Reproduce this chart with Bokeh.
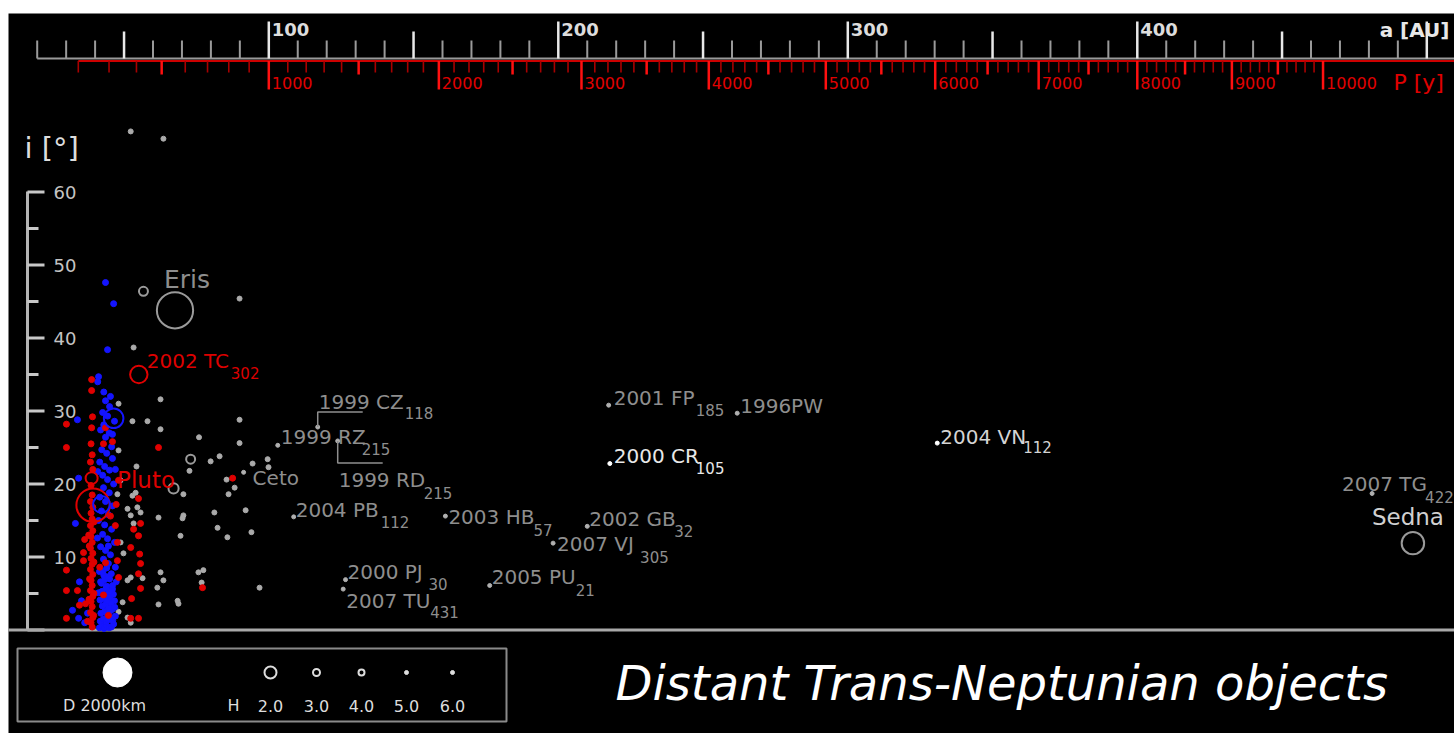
from bokeh.plotting import figure
from bokeh.models import Range1d
from bokeh.embed import file_html
from bokeh.resources import INLINE
from bokeh.core.properties import value

# ---------------- data ----------------
# resonant objects (red): semi-major axis a [AU], inclination i [deg]
res_a = [30.1, 30.1, 30.1, 30.1, 30.1, 36.0, 36.0, 33.9, 34.6, 36.7, 37.4, 36.4,
         38.8, 38.8, 39.1, 38.8,
         38.6, 39.0, 38.4, 39.2, 38.6, 39.0, 38.4, 39.2, 38.6, 39.0, 38.4, 39.2,
         38.6, 39.0, 38.4, 39.2, 38.6, 39.0, 38.4, 39.2, 38.6, 39.0, 38.4, 39.2,
         38.6, 39.0, 38.4, 39.2, 38.6, 39.0,
         38.0, 37.8, 39.6, 39.6, 38.1, 39.6, 37.9, 39.5,
         43.6, 42.9, 46.0, 43.6, 47.7, 47.7, 47.0, 48.1, 42.9, 44.6, 41.6, 45.3, 47.3, 48.1,
         55.0, 55.7, 53.3, 55.0, 52.3, 55.7, 55.0, 55.7, 52.6, 55.0, 52.3, 55.4,
         61.9, 87.5, 77.1]
res_i = [28.2, 25.0, 8.2, 5.4, 1.6, 10.6, 9.5, 5.4, 3.4, 3.6, 1.2, 12.4,
         34.3, 32.8, 29.2, 27.7,
         25.5, 24.0, 23.0, 22.0, 19.8, 18.5, 17.6, 16.8, 16.0, 15.2, 14.3, 13.6,
         12.8, 12.0, 11.2, 10.5, 9.8, 9.0, 8.3, 7.6, 6.8, 6.1, 5.4, 4.6,
         3.9, 3.2, 2.4, 1.7, 1.0, 0.4,
         11.5, 13.0, 14.8, 9.3, 7.0, 5.0, 4.2, 2.0,
         27.7, 25.5, 25.8, 9.2, 9.5, 12.0, 14.3, 7.2, 4.8, 2.0, 8.6, 15.6, 17.2, 20.5,
         18.0, 14.6, 13.8, 12.9, 11.3, 9.1, 7.7, 5.7, 4.3, 1.6, 1.6, 10.4,
         25.0, 20.8, 5.8]

# classical objects (blue)
cla_a = [43.6, 46.4, 44.3, 41.2, 40.9, 43.6, 33.9, 45.0, 42.6, 44.3, 46.7, 43.0,
         41.9, 44.9, 43.6, 45.7, 42.3, 44.0, 46.0, 41.6, 43.3, 45.0, 42.6, 34.3,
         44.3, 46.4, 42.9, 44.9, 41.6, 43.6, 46.0, 42.2, 44.6, 33.2, 41.2, 43.3,
         45.7, 42.6, 44.3, 46.7, 41.9, 43.6, 45.3, 42.9, 44.6, 47.0, 41.5, 43.0,
         45.0, 34.6, 42.2, 44.0, 46.0, 41.2, 43.3, 44.9, 46.7, 32.2, 34.3, 36.4,
         37.4, 35.3, 45.3, 43.0, 46.0, 47.0, 44.6, 47.3, 40.8, 40.9,
         41.5, 42.4, 43.1, 44.0, 44.8, 45.6, 46.4, 41.8, 42.9, 43.8, 44.5, 45.3,
         46.1, 47.0, 42.0, 43.4, 44.2, 45.0, 45.9, 46.8, 42.5, 43.6, 44.7, 45.5,
         41.7, 43.0, 44.1, 45.2, 46.3, 42.4, 43.8, 44.9, 46.0, 41.9, 43.3, 44.6,
         45.6, 42.7, 44.0]
cla_i = [47.6, 44.7, 38.4, 34.7, 34.0, 31.4, 28.8, 30.6, 29.8, 29.3, 28.6, 28.1,
         27.4, 27.0, 26.4, 25.1, 24.7, 24.2, 23.5, 23.0, 22.4, 21.9, 21.2, 20.8,
         20.6, 20.0, 19.5, 18.8, 18.2, 17.6, 17.0, 16.3, 15.8, 14.6, 15.0, 14.4,
         13.8, 13.1, 12.5, 12.0, 11.4, 10.9, 10.3, 9.7, 9.1, 8.6, 8.0, 7.5,
         7.0, 6.6, 6.4, 6.0, 5.6, 5.1, 4.8, 4.4, 4.0, 2.7, 1.6, 1.0,
         2.3, 4.0, 32.0, 32.6, 26.8, 22.0, 11.5, 6.6, 12.6, 21.7,
         0.3, 0.5, 0.2, 0.6, 0.3, 0.4, 0.8, 1.2, 1.5, 1.1, 1.4, 1.7,
         1.3, 1.9, 2.3, 2.6, 2.2, 2.5, 2.8, 3.1, 3.3, 3.5, 3.0, 3.7,
         4.1, 4.3, 4.0, 4.6, 4.9, 5.3, 5.7, 5.2, 6.1, 6.6, 6.9, 7.3,
         7.7, 8.0, 8.5]

# scattered objects (grey)
sdo_a = [52.3, 63.6, 89.9, 53.3, 62.6, 48.1, 52.9, 58.1, 62.6, 75.9, 89.9, 89.9,
         79.9, 83.0, 72.6, 94.4, 99.6, 99.9, 85.4, 88.2, 86.1, 70.5, 92.0, 81.2,
         61.9, 70.5, 70.2, 82.3, 94.0, 69.5, 85.7, 62.6, 63.6, 61.5, 75.7, 77.4,
         76.8, 96.8, 61.9, 68.5, 68.8, 48.1, 48.8, 52.9, 51.2, 52.3, 53.3, 48.8,
         49.8, 51.2, 52.3, 49.5, 51.2, 52.3, 56.4, 54.0, 54.6, 55.7, 48.1, 47.7, 54.3]
sdo_i = [68.3, 67.3, 45.4, 38.7, 31.6, 31.0, 28.6, 28.6, 27.5, 26.4, 28.8, 25.6,
         23.1, 23.8, 21.8, 22.8, 23.4, 22.3, 20.6, 19.5, 18.6, 18.6, 16.4, 16.1,
         15.4, 15.7, 15.3, 14.0, 13.4, 12.9, 12.7, 7.9, 6.8, 5.8, 7.9, 8.2,
         6.5, 5.8, 3.5, 4.0, 3.6, 24.6, 20.5, 18.4, 16.6, 15.7, 14.6, 12.0,
         10.5, 6.8, 7.2, 3.8, 1.7, 1.0, 7.1, 18.8, 16.8, 16.1, 2.5, 18.6, 22.4]

# large bodies drawn as circles (diameter in km)
big_name = ["Eris", "Pluto", "Sedna", "2002 TC", "", "", "", "", "", ""]
big_sub = ["", "", "", "302", "", "", "", "", "", ""]
big_group = ["sdo", "res", "sdo", "res", "cla", "cla", "res", "sdo", "sdo", "sdo"]
big_a = [67.6, 39.3, 495.2, 55.1, 46.4, 42.2, 38.8, 67.1, 56.7, 73.0]
big_i = [43.8, 17.1, 11.9, 35.0, 29.0, 17.2, 20.8, 19.4, 46.4, 23.4]
big_d = [2500, 2300, 1550, 1200, 1350, 1150, 830, 700, 620, 620]

# named distant objects
named_main = ["1999 CZ", "1999 RZ", "1999 RD", "Ceto", "2004 PB", "2003 HB", "2002 GB",
              "2007 VJ", "2000 PJ", "2007 TU", "2005 PU", "2001 FP", "1996PW",
              "2000 CR", "2004 VN", "2007 TG"]
named_sub = ["118", "215", "215", "", "112", "57", "32", "305", "30", "431", "21",
             "185", "", "105", "112", "422"]
named_a = [116.9, 103.1, 123.8, 91.3, 108.6, 161.0, 210.0, 198.2, 126.5, 125.7,
           176.3, 217.4, 261.8, 217.8, 330.9, 481.1]
named_i = [27.8, 25.3, 25.9, 21.6, 15.5, 15.6, 14.2, 11.9, 6.9, 5.6, 6.1, 30.8,
           29.7, 22.8, 25.6, 18.7]

# axes
a_ticks = list(range(20, 501, 10))
a_labels = [100, 200, 300, 400]
P_ticks = list(range(200, 10001, 100))
P_labels = [1000, 2000, 3000, 4000, 5000, 6000, 7000, 8000, 9000, 10000]
i_ticks = list(range(0, 61, 5))
i_labels = [10, 20, 30, 40, 50, 60]
legend_H = ["2.0", "3.0", "4.0", "5.0", "6.0"]

assert len(res_a) == len(res_i) and len(cla_a) == len(cla_i) and len(sdo_a) == len(sdo_i)

# ---------------- layout helpers (page pixel geometry) ----------------
AX0, SX = 268.3, 2.895   # page px of a=100, px per AU
Y0, SY = 629.5, 7.3      # page px of i=0, px per degree
LEFT, TOP, W, H = 8, 13, 1446, 720


def ax(px):
    return 100 + (px - AX0) / SX


def iy(py):
    return (Y0 - py) / SY


def dxa(d):
    return d / SX


def dyi(d):
    return -d / SY


FONT = value("DejaVu Sans")
GREY = "#8e8e8e"
RED = "#e00000"
BLUE = "#1414ff"

p = figure(width=W, height=H, x_range=Range1d(ax(LEFT), ax(LEFT + W)),
           y_range=Range1d(iy(TOP + H), iy(TOP)), output_backend="svg",
           toolbar_location=None, x_axis_type=None, y_axis_type=None,
           background_fill_color="black", border_fill_color="black",
           outline_line_color=None, min_border=0)
p.margin = (TOP, 0, 0, LEFT)
XR = ax(1460)

# ---- top a [AU] axis ----
ya = iy(58)
p.segment(x0=[ax(36.7)], y0=[ya], x1=[XR], y1=[ya], line_color="#9a9a9a", line_width=2)
minor = [t for t in a_ticks if t % 50]
half = [t for t in a_ticks if t % 50 == 0 and t % 100]
major = [t for t in a_ticks if t % 100 == 0]
p.segment(x0=minor, y0=[ya] * len(minor), x1=minor, y1=[iy(40)] * len(minor),
          line_color="#9a9a9a", line_width=2)
p.segment(x0=half, y0=[ya] * len(half), x1=half, y1=[iy(31)] * len(half),
          line_color="#e8e8e8", line_width=2.5)
p.segment(x0=major, y0=[ya] * len(major), x1=major, y1=[iy(21)] * len(major),
          line_color="#e8e8e8", line_width=2.5)
p.text(x=[t + dxa(3) for t in a_labels], y=[iy(29)] * len(a_labels),
       text=[str(t) for t in a_labels], text_font=FONT, text_font_size=value("18px"),
       text_font_style="bold", text_color="#dddddd", text_align="left", text_baseline="middle")
p.text(x=[ax(1449)], y=[iy(29)], text=["a [AU]"], text_font=FONT, text_font_size=value("20px"),
       text_font_style="bold", text_color="#e8e8e8", text_align="right", text_baseline="middle")

# ---- red P [y] axis ----
yr = iy(60.5)
Pa = [P ** (2.0 / 3.0) for P in P_ticks]
p.segment(x0=[Pa[0]], y0=[yr], x1=[XR], y1=[yr], line_color="#cc0000", line_width=2)
pm = [a for a, P in zip(Pa, P_ticks) if P % 500]
ph = [a for a, P in zip(Pa, P_ticks) if P % 500 == 0 and P % 1000]
pk = [a for a, P in zip(Pa, P_ticks) if P % 1000 == 0]
p.segment(x0=pm, y0=[yr] * len(pm), x1=pm, y1=[iy(72)] * len(pm), line_color="#a80000", line_width=1.6)
p.segment(x0=ph, y0=[yr] * len(ph), x1=ph, y1=[iy(74)] * len(ph), line_color="#ff1010", line_width=2.5)
p.segment(x0=pk, y0=[yr] * len(pk), x1=pk, y1=[iy(89)] * len(pk), line_color="#ff1010", line_width=2.5)
p.text(x=[P ** (2.0 / 3.0) + dxa(3) for P in P_labels], y=[iy(82)] * len(P_labels),
       text=[str(P) for P in P_labels], text_font=FONT, text_font_size=value("16px"),
       text_color=RED, text_align="left", text_baseline="middle")
p.text(x=[ax(1393)], y=[iy(82)], text=["P [y]"], text_font=FONT, text_font_size=value("22px"),
       text_color=RED, text_align="left", text_baseline="middle")

# ---- left i [deg] axis ----
xl = ax(27)
p.segment(x0=[xl], y0=[iy(191)], x1=[xl], y1=[0], line_color="#b4b4b4", line_width=3)
imaj = [t for t in i_ticks if t % 10 == 0]
imin = [t for t in i_ticks if t % 10]
p.segment(x0=[xl] * len(imaj), y0=imaj, x1=[ax(44)] * len(imaj), y1=imaj,
          line_color="#c8c8c8", line_width=3)
p.segment(x0=[xl] * len(imin), y0=imin, x1=[ax(38)] * len(imin), y1=imin,
          line_color="#c8c8c8", line_width=3)
p.text(x=[ax(53)] * len(i_labels), y=i_labels, text=[str(t) for t in i_labels],
       text_font=FONT, text_font_size=value("18px"), text_color="#c4c4c4",
       text_align="left", text_baseline="middle")
p.text(x=[ax(24)], y=[iy(147)], text=["i [°]"], text_font=FONT, text_font_size=value("29px"),
       text_color="#dddddd", text_align="left", text_baseline="middle")

# bottom line
p.segment(x0=[ax(0)], y0=[0], x1=[XR], y1=[0], line_color="#a8a8a8", line_width=3)

# ---- data points ----
p.scatter(sdo_a, sdo_i, size=5, color="#aaaaaa")
p.scatter(cla_a, cla_i, size=6, color=BLUE)
p.scatter(res_a, res_i, size=6, color=RED)

kind_col = {"sdo": "#9a9a9a", "res": RED, "cla": BLUE}
p.scatter(big_a, big_i, size=[d * 0.0145 for d in big_d], fill_color=None,
          line_color=[kind_col[k] for k in big_group], line_width=2)

# named objects
named_col = ["#ffffff" if n in ("2000 CR", "2004 VN") else "#b0b0b0" for n in named_main]
p.scatter(named_a, named_i, size=4, color=named_col)

# leader brackets (1999 CZ118 and 1999 RD215)
p.multi_line(xs=[[named_a[0], named_a[0], named_a[0] + dxa(45)],
                 [named_a[2], named_a[2], named_a[2] + dxa(45)]],
             ys=[[named_i[0], named_i[0] + 15 / SY, named_i[0] + 15 / SY],
                 [named_i[2], named_i[2] - 22 / SY, named_i[2] - 22 / SY]],
             line_color="#8e8e8e", line_width=1.5)

off = {"1999 CZ": (1, -25, 87, -14), "1999 RZ": (3, -8, 84, 4), "1999 RD": (1, 39, 86, 52),
       "Ceto": (9, 6, 0, 0), "2004 PB": (2, -7, 87, 5), "2003 HB": (3, 1, 88, 14),
       "2002 GB": (2, -7, 87, 5), "2007 VJ": (4, 1, 87, 14), "2000 PJ": (2, -8, 83, 4),
       "2007 TU": (3, 12, 87, 23), "2005 PU": (2, -8, 86, 5), "2001 FP": (5, -7, 87, 5),
       "1996PW": (3, -7, 0, 0), "2000 CR": (4, -8, 86, 4), "2004 VN": (3, -6, 86, 4),
       "2007 TG": (-30, -9, 53, 4)}
lab_col = {"2000 CR": "#e8e8e8", "2004 VN": "#d4d4d4"}
p.text(x=[a + dxa(off[n][0]) for n, a in zip(named_main, named_a)],
       y=[i + dyi(off[n][1]) for n, i in zip(named_main, named_i)],
       text=named_main, text_font=FONT, text_font_size=value("20px"),
       text_color=[lab_col.get(n, GREY) for n in named_main],
       text_align="left", text_baseline="middle")
sub_idx = [k for k, s in enumerate(named_sub) if s]
p.text(x=[named_a[k] + dxa(off[named_main[k]][2]) for k in sub_idx],
       y=[named_i[k] + dyi(off[named_main[k]][3]) for k in sub_idx],
       text=[named_sub[k] for k in sub_idx], text_font=FONT, text_font_size=value("15px"),
       text_color=[lab_col.get(named_main[k], GREY) for k in sub_idx],
       text_align="left", text_baseline="middle")

# big body labels
big_off = {"Eris": (-11, -31, "25px", GREY), "Pluto": (24, -25, "23px", "#dd0000"),
           "Sedna": (-41, -26, "23px", "#d0d0d0"), "2002 TC": (8, -14, "20px", "#dd0000")}
bl = [k for k, n in enumerate(big_name) if n]
for k in bl:
    dx, dy, fs, col = big_off[big_name[k]]
    p.text(x=[big_a[k] + dxa(dx)], y=[big_i[k] + dyi(dy)], text=[big_name[k]],
           text_font=FONT, text_font_size=value(fs), text_color=col,
           text_align="left", text_baseline="middle")
    if big_sub[k]:
        p.text(x=[big_a[k] + dxa(92)], y=[big_i[k] + dyi(-2)], text=[big_sub[k]],
               text_font=FONT, text_font_size=value("15px"), text_color=col,
               text_align="left", text_baseline="middle")

# ---- legend ----
p.quad(left=[ax(17)], right=[ax(506)], top=[iy(648)], bottom=[iy(721)],
       fill_color=None, line_color="#8a8a8a", line_width=2)
p.scatter([ax(117)], [iy(672)], size=2000 * 0.0145, color="white")
p.text(x=[ax(104)], y=[iy(705)], text=["D 2000km"], text_font=FONT,
       text_font_size=value("16px"), text_color="#dddddd", text_align="center", text_baseline="middle")
hx = [270, 316, 361, 406, 452]
hs = [12, 7, 6, 4, 4]
p.scatter([ax(x) for x in hx[:3]], [iy(672)] * 3, size=hs[:3], fill_color=None,
          line_color="#dddddd", line_width=2)
p.scatter([ax(x) for x in hx[3:]], [iy(672)] * 2, size=hs[3:], color="#dddddd")
p.text(x=[ax(233)] + [ax(x) for x in hx], y=[iy(705)] * 6, text=["H"] + legend_H,
       text_font=FONT, text_font_size=value("16px"), text_color="#dddddd",
       text_align="center", text_baseline="middle")

# ---- title ----
p.text(x=[ax(615)], y=[iy(682)], text=["Distant Trans-Neptunian objects"], text_font=FONT,
       text_font_size=value("48px"), text_font_style="italic", text_color="white",
       text_align="left", text_baseline="middle")

open("out.html", "w").write(file_html(p, INLINE))
